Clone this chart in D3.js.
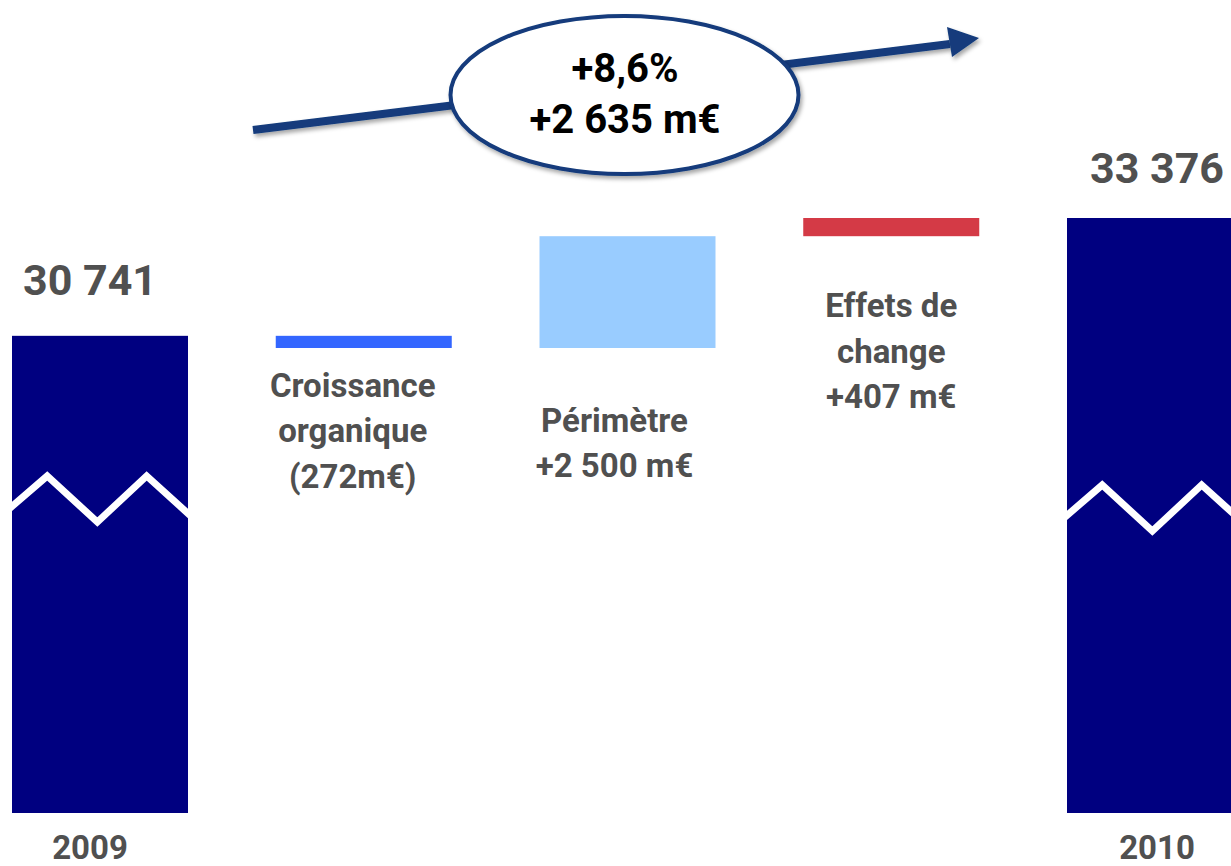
<!DOCTYPE html>
<html>
<head>
<meta charset="utf-8">
<script src="https://cdn.jsdelivr.net/npm/d3@7"></script>
<style>
  html, body { margin: 0; padding: 0; background: #ffffff; }
  svg { display: block; }
  text { font-family: Roboto, "Noto Sans", sans-serif; font-weight: 700; }
</style>
</head>
<body>
<svg id="chart" width="1231" height="866"></svg>
<script>
// ---- data ----
const categories = ["2009", "Croissance organique", "Périmètre", "Effets de change", "2010"];
const kinds = ["total", "delta", "delta", "delta", "total"];
const values = [30741, -272, 2500, 407, 33376];
const valueLabels = ["30 741", "", "", "", "33 376"];
const categoryLines = [
  ["2009"],
  ["Croissance", "organique", "(272m€)"],
  ["Périmètre", "+2 500 m€"],
  ["Effets de", "change", "+407 m€"],
  ["2010"]
];
const growthLabels = ["+8,6%", "+2 635 m€"];
const barColors = ["#000080", "#3366ff", "#99ccff", "#d43a46", "#000080"];

// ---- layout ----
const axisFloor = 20070;          // broken axis: bars start here
const svg = d3.select("#chart");

const x = d3.scaleBand().domain(categories).range([12, 1243]).paddingInner(0.3327).paddingOuter(0);
const y = d3.scaleLinear().domain([axisFloor, 33376]).range([813, 218]);

// compute waterfall extents
let running = 0;
const bars = categories.map((c, i) => {
  let lo, hi;
  if (kinds[i] === "total") { lo = axisFloor; hi = values[i]; running = values[i]; }
  else { const s = running; running += values[i]; lo = Math.min(s, running); hi = Math.max(s, running); }
  return { cat: c, i, lo, hi };
});

const defs = svg.append("defs");
const sh = defs.append("filter").attr("id", "shadow").attr("x", "-20%").attr("y", "-20%").attr("width", "140%").attr("height", "160%");
sh.append("feDropShadow").attr("dx", 2).attr("dy", 3).attr("stdDeviation", 2.2).attr("flood-color", "#000").attr("flood-opacity", 0.35);

bars.forEach(b => {
  defs.append("clipPath").attr("id", "clip" + b.i).append("rect")
    .attr("x", x(b.cat)).attr("y", y(b.hi)).attr("width", x.bandwidth()).attr("height", y(b.lo) - y(b.hi));
});

// bars
svg.append("g").selectAll("rect").data(bars).join("rect")
  .attr("x", d => x(d.cat))
  .attr("y", d => y(d.hi))
  .attr("width", x.bandwidth())
  .attr("height", d => y(d.lo) - y(d.hi))
  .attr("fill", d => barColors[d.i]);

// axis break zigzags on total bars
const breakY = { 0: 476, 4: 485 };
const zz = [[0, 30], [0.2, 0], [0.485, 46], [0.765, 0], [1, 38]];
bars.filter(b => kinds[b.i] === "total").forEach(b => {
  const x0 = x(b.cat), w = x.bandwidth(), by = breakY[b.i];
  const pts = zz.map(p => [x0 + p[0] * w, by + p[1]]);
  pts[0][0] -= 10; pts[0][1] += 10 * 0.9;
  pts[pts.length - 1][0] += 10; pts[pts.length - 1][1] += 10 * 0.85;
  svg.append("path")
    .attr("clip-path", "url(#clip" + b.i + ")")
    .attr("d", d3.line()(pts))
    .attr("fill", "none").attr("stroke", "#ffffff").attr("stroke-width", 7)
    .attr("stroke-linejoin", "miter");
});

// value labels above total bars
const valueDy = { 0: 41, 4: 35 };
svg.append("g").selectAll("text").data(bars.filter(b => valueLabels[b.i])).join("text")
  .attr("x", d => x(d.cat) + x.bandwidth() / 2 + (d.i === 0 ? -10 : 2))
  .attr("y", d => y(d.hi) - valueDy[d.i])
  .attr("text-anchor", "middle")
  .attr("font-size", 43)
  .attr("fill", "#505050")
  .text(d => valueLabels[d.i]);

// category labels below bars
const labelDy = [46, 49, 84, 81, 46];
const labelDx = [-10, -11, -13, 0, 2];
const lineH = 45.5;
bars.forEach(b => {
  const t = svg.append("text")
    .attr("text-anchor", "middle")
    .attr("font-size", 33)
    .attr("fill", "#505050");
  categoryLines[b.i].forEach((ln, k) => {
    t.append("tspan")
      .attr("x", x(b.cat) + x.bandwidth() / 2 + labelDx[b.i])
      .attr("y", y(b.lo) + labelDy[b.i] + k * lineH)
      .text(ln);
  });
});

// growth arrow with ellipse
const arrowColor = "#123b7b";
const ax0 = 253, ay0 = 130, ax1 = 950, ay1 = 44;
svg.append("line")
  .attr("x1", ax0).attr("y1", ay0).attr("x2", ax1).attr("y2", ay1)
  .attr("stroke", arrowColor).attr("stroke-width", 8)
  .attr("filter", "url(#shadow)");
svg.append("path")
  .attr("d", "M947,27 L979,38 L952,57 Z")
  .attr("fill", arrowColor)
  .attr("filter", "url(#shadow)");

svg.append("ellipse")
  .attr("cx", 624.5).attr("cy", 95).attr("rx", 174).attr("ry", 79)
  .attr("fill", "#ffffff").attr("stroke", arrowColor).attr("stroke-width", 4)
  .attr("filter", "url(#shadow)");

svg.append("g").selectAll("text").data(growthLabels).join("text")
  .attr("x", 625)
  .attr("y", (d, i) => 82 + i * 51)
  .attr("text-anchor", "middle")
  .attr("font-size", 40)
  .attr("fill", "#000000")
  .text(d => d);
</script>
</body>
</html>
